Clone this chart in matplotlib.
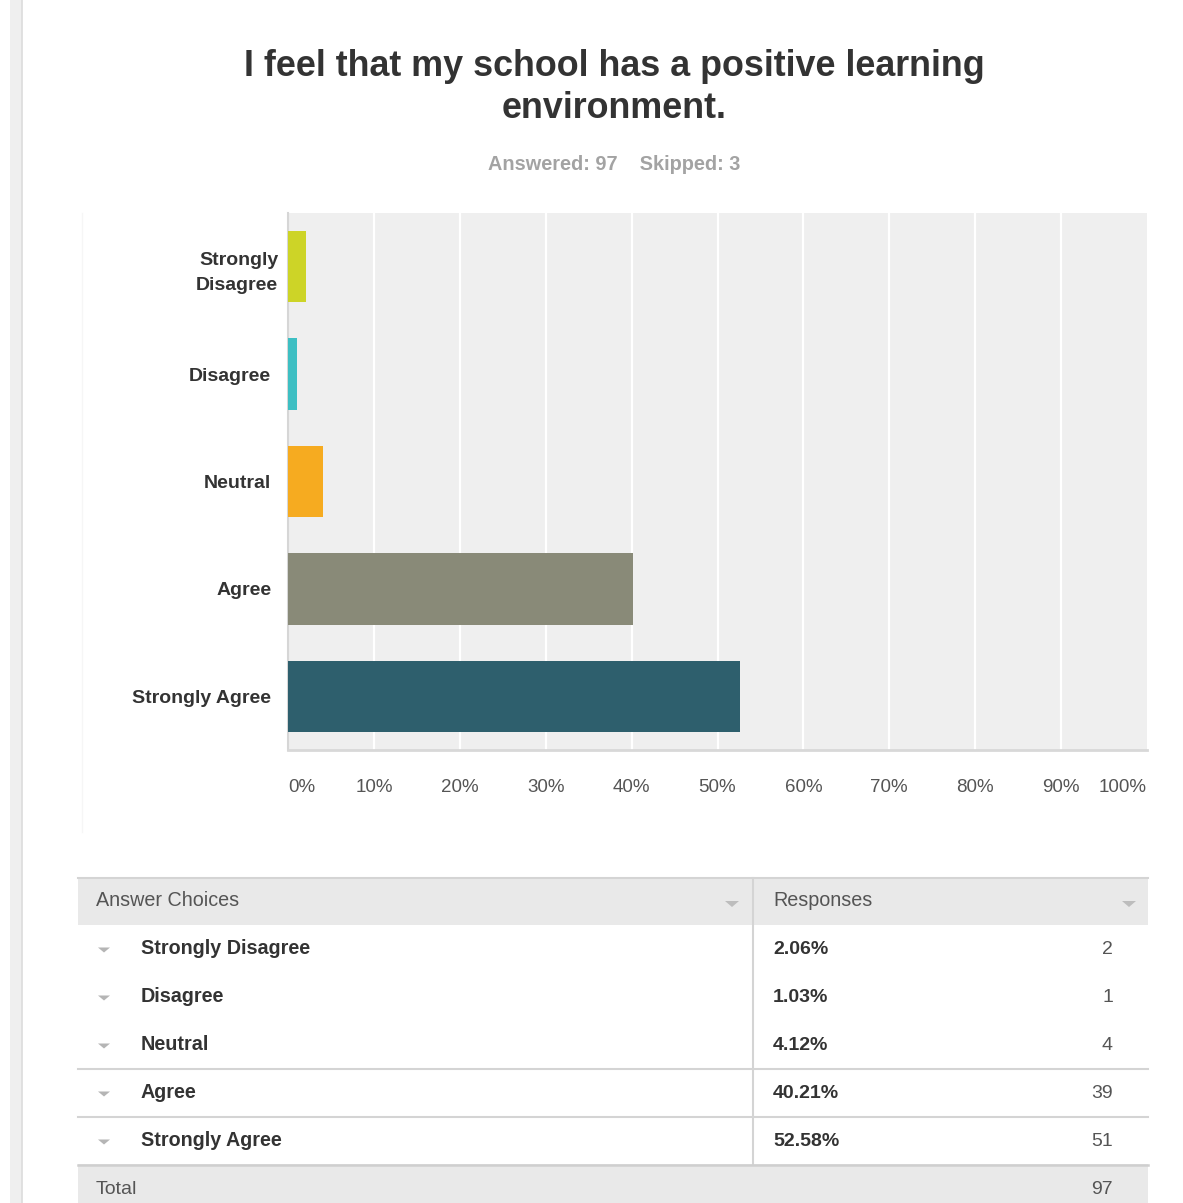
import matplotlib
matplotlib.use("Agg")
import matplotlib.pyplot as plt
import matplotlib.transforms as mtransforms
from matplotlib.patches import Rectangle, Polygon

plt.rcParams['font.family'] = ['Liberation Sans', 'DejaVu Sans']

# Survey data
choices = ["Strongly Disagree", "Disagree", "Neutral", "Agree", "Strongly Agree"]
axis_labels = ["Strongly\nDisagree", "Disagree", "Neutral", "Agree", "Strongly Agree"]
percents = [2.06, 1.03, 4.12, 40.21, 52.58]
counts = [2, 1, 4, 39, 51]
total = 97
skipped = 3
bar_colors = ["#cdd427", "#3dbfc3", "#f6ab20", "#898a78", "#2e5f6d"]
xticks = [0, 10, 20, 30, 40, 50, 60, 70, 80, 90, 100]
title_lines = ["I feel that my school has a positive learning", "environment."]

W, H = 1183, 1203
fig = plt.figure(figsize=(W / 100, H / 100), dpi=100)
fig.patch.set_facecolor("white")

# Page overlay in pixel coordinates
pg = fig.add_axes([0, 0, 1, 1])
pg.set_xlim(0, W)
pg.set_ylim(H, 0)
pg.axis("off")

# left page strip
pg.add_patch(Rectangle((10, 0), 12, H, color="#efefef", lw=0))
pg.plot([22.5, 22.5], [0, H], color="#dcdcdc", lw=1.2)
# faint chart panel edge
pg.plot([82.5, 82.5], [213, 832], color="#f6f6f6", lw=1)

# Title and subtitle
for txt, yy in zip(title_lines, [67, 109]):
    pg.text(614, yy, txt, ha="center", va="center", fontsize=25.8,
            fontweight="bold", color="#333333")
pg.text(614, 165, f"Answered: {total}    Skipped: {skipped}", ha="center",
        va="center", fontsize=14.3, fontweight="bold", color="#a3a3a3")

# Bar chart
x0, x1, y0, y1 = 288, 1147, 213, 750
ax = fig.add_axes([x0 / W, 1 - y1 / H, (x1 - x0) / W, (y1 - y0) / H])
ax.set_facecolor("#efefef")
ax.set_xlim(0, 100)
ax.set_ylim(len(choices) - 0.5, -0.5)
ypos = list(range(len(choices)))
ax.barh(ypos, percents, height=0.665, color=bar_colors, zorder=3)
for t in xticks[1:-1]:
    ax.axvline(t, color="white", lw=1.6, zorder=1)
for s in ["top", "right"]:
    ax.spines[s].set_visible(False)
ax.spines["left"].set_color("#d6d6d6")
ax.spines["left"].set_linewidth(1.5)
ax.spines["bottom"].set_color("#d8d8d8")
ax.spines["bottom"].set_linewidth(2)
ax.set_yticks(ypos)
ax.set_yticklabels(axis_labels, fontsize=14, fontweight="bold", color="#333333",
                   linespacing=1.6)
ax.tick_params(axis="y", length=0, pad=12)
# the wrapped label sits a little further right
first = ax.get_yticklabels()[0]
first.set_transform(first.get_transform() +
                    mtransforms.ScaledTranslation(7 / 100, 0, fig.dpi_scale_trans))
ax.set_xticks(xticks)
ax.set_xticklabels([f"{t}%" for t in xticks], fontsize=13.5, color="#555555")
ax.tick_params(axis="x", length=0, pad=21)
xt = ax.get_xticklabels()
xt[0].set_ha("left")
xt[-1].set_ha("right")

# Response table
tl, tr, tdiv = 78, 1148, 753
row_h = 48
head_top = 878
pg.add_patch(Rectangle((tl, head_top), tr - tl, 47, color="#e9e9e9", lw=0))
pg.plot([tl, tr], [head_top, head_top], color="#d4d4d4", lw=1.5)
pg.text(96, 901, "Answer Choices", ha="left", va="center", fontsize=14.2, color="#555555")
pg.text(773, 901, "Responses", ha="left", va="center", fontsize=14.2, color="#555555")


def tri(cx, cy, w=14, h=6, color="#bdbdbd"):
    pg.add_patch(Polygon([(cx - w / 2, cy - h / 2), (cx + w / 2, cy - h / 2), (cx, cy + h / 2)],
                         closed=True, color=color, lw=0))


tri(732, 904)
tri(1129, 904)

row_y = [949 + row_h * i for i in range(len(choices))]
for name, pct, n, yy in zip(choices, percents, counts, row_y):
    tri(104, yy + 1, w=12, h=5, color="#b5b5b5")
    pg.text(141, yy, name, ha="left", va="center", fontsize=14.2, fontweight="bold", color="#333333")
    pg.text(773, yy, f"{pct:.2f}%", ha="left", va="center", fontsize=14, fontweight="bold",
            color="#333333")
    pg.text(1113, yy, str(n), ha="right", va="center", fontsize=14, color="#555555")

for yl in [1068.5, 1116.5]:
    pg.plot([tl, tr], [yl, yl], color="#d4d4d4", lw=1.5)
pg.plot([tdiv, tdiv], [head_top, 1164], color="#d4d4d4", lw=1.5)

# total row
pg.add_patch(Rectangle((tl, 1164), tr - tl, H - 1164, color="#e9e9e9", lw=0))
pg.plot([tl, tr], [1164.5, 1164.5], color="#cfcfcf", lw=1.8)
pg.text(96, 1189, "Total", ha="left", va="center", fontsize=14, color="#555555")
pg.text(1113, 1189, str(total), ha="right", va="center", fontsize=14, color="#555555")

fig.savefig("out.png", dpi=100, facecolor="white")
